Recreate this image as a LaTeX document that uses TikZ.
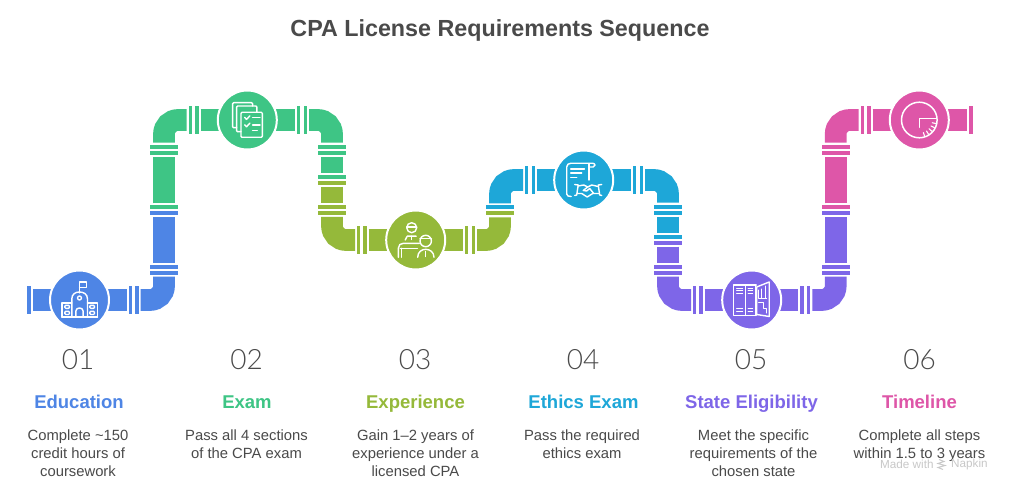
\documentclass[tikz,border=0pt]{standalone}
\usepackage{fontspec}
\setmainfont{Liberation Sans}
\newfontfamily\numfont{Lato Light}
\usetikzlibrary{backgrounds}
\definecolor{cblue}{HTML}{4E85E5}
\definecolor{cgreen}{HTML}{3EC585}
\definecolor{colive}{HTML}{95B93A}
\definecolor{cteal}{HTML}{1EA7D8}
\definecolor{cpurple}{HTML}{7E66E8}
\definecolor{cpink}{HTML}{DE56A8}
\definecolor{ctext}{HTML}{4A4A4A}
\definecolor{cmark}{HTML}{C8C8C8}
\tikzset{
  hub/.style={circle,inner sep=0pt,minimum size=59pt,draw=white,line width=2pt},
  pipe/.style={line width=21.7pt,line cap=butt},
  elbow/.style={pipe,rounded corners=14pt},
  ico/.style={draw=white,line width=1.4pt,line cap=round,line join=round},
  numtext/.style={font=\numfont\fontsize{28}{30}\selectfont,text=ctext,anchor=center},
  headtext/.style={font=\bfseries\fontsize{18.5}{22}\selectfont,anchor=base},
  desctext/.style={font=\fontsize{14.8}{18}\selectfont,text=ctext,align=center,anchor=north,inner sep=0pt},
}
\newcommand{\vb}[3]{\fill[#3] (#1,#2-14) rectangle ++(3.4,28);}
\newcommand{\hb}[3]{\fill[#3] (#1-14,#2) rectangle ++(28,4.3);}
\begin{document}
\begin{tikzpicture}[x=1pt,y=-1pt]
\useasboundingbox (0,0) rectangle (1013,492);
% hubs
\node[hub,fill=cblue] (n1) at (79.5,300) {};
\node[hub,fill=cgreen] (n2) at (247.3,120) {};
\node[hub,fill=colive] (n3) at (415.7,240) {};
\node[hub,fill=cteal] (n4) at (583.7,180) {};
\node[hub,fill=cpurple] (n5) at (751.7,300) {};
\node[hub,fill=cpink] (n6) at (919.3,120) {};
\begin{pgfonlayer}{background}
\fill[white] (0,0) rectangle (1013,492);
% blue
\fill[cblue] (26.7,286) rectangle (30.7,314);
\draw[pipe,cblue] (n1.center) -- (33,300);
\draw[pipe,cblue] (n1.center) -- (127,300);
\vb{128.7}{300}{cblue}\vb{135.3}{300}{cblue}
\draw[elbow,cblue] (140.7,300) -- (164,300) -- (164,276.7);
\hb{164}{271}{cblue}\hb{164}{265}{cblue}
\draw[pipe,cblue] (164,263) -- (164,217);
\hb{164}{210.7}{cblue}\hb{164}{205}{cgreen}
% green
\draw[pipe,cgreen] (164,203.3) -- (164,157);
\hb{164}{151}{cgreen}\hb{164}{145}{cgreen}
\draw[elbow,cgreen] (164,142.7) -- (164,120) -- (186.7,120);
\vb{188.7}{120}{cgreen}\vb{195.3}{120}{cgreen}
\draw[pipe,cgreen] (200.7,120) -- (n2.center) -- (295.3,120);
\vb{297}{120}{cgreen}\vb{303.7}{120}{cgreen}
\draw[elbow,cgreen] (309,120) -- (332,120) -- (332,142.7);
\hb{332}{145}{cgreen}\hb{332}{151}{cgreen}
\draw[pipe,cgreen] (332,157) -- (332,173.3);
\hb{332}{175}{cgreen}\hb{332}{180.7}{colive}
% olive
\draw[pipe,colive] (332,186.7) -- (332,203);
\hb{332}{205}{colive}\hb{332}{210.7}{colive}
\draw[elbow,colive] (332,217) -- (332,240) -- (355,240);
\vb{356.7}{240}{colive}\vb{363.3}{240}{colive}
\draw[pipe,colive] (368.7,240) -- (n3.center) -- (463,240);
\vb{465}{240}{colive}\vb{471.7}{240}{colive}
\draw[elbow,colive] (477,240) -- (500,240) -- (500,217.3);
\hb{500}{211}{colive}\hb{500}{205}{cteal}
% teal
\draw[elbow,cteal] (500,203.3) -- (500,180) -- (523,180);
\vb{525}{180}{cteal}\vb{531.7}{180}{cteal}
\draw[pipe,cteal] (536.7,180) -- (n4.center) -- (631,180);
\vb{633}{180}{cteal}\vb{639.7}{180}{cteal}
\draw[elbow,cteal] (645,180) -- (668,180) -- (668,202.7);
\hb{668}{205}{cteal}\hb{668}{211}{cteal}
\draw[pipe,cteal] (668,216.7) -- (668,233.3);
\hb{668}{235}{cteal}\hb{668}{240.7}{cpurple}
% purple
\draw[pipe,cpurple] (668,246.7) -- (668,263.3);
\hb{668}{265}{cpurple}\hb{668}{271}{cpurple}
\draw[elbow,cpurple] (668,276.7) -- (668,300) -- (691,300);
\vb{692.7}{300}{cpurple}\vb{699.3}{300}{cpurple}
\draw[pipe,cpurple] (704.7,300) -- (n5.center) -- (798,300);
\vb{800.3}{300}{cpurple}\vb{807}{300}{cpurple}
\draw[elbow,cpurple] (812.3,300) -- (835.7,300) -- (835.7,276.7);
\hb{835.7}{271}{cpurple}\hb{835.7}{265}{cpurple}
\draw[pipe,cpurple] (835.7,263) -- (835.7,217);
\hb{835.7}{210.7}{cpurple}\hb{835.7}{205}{cpink}
% pink
\draw[pipe,cpink] (835.7,203.3) -- (835.7,157);
\hb{835.7}{151}{cpink}\hb{835.7}{145}{cpink}
\draw[elbow,cpink] (835.7,142.7) -- (835.7,120) -- (858.7,120);
\vb{860.7}{120}{cpink}\vb{867.3}{120}{cpink}
\draw[pipe,cpink] (872.7,120) -- (n6.center) -- (967.3,120);
\fill[cpink] (969,106) rectangle (972.7,134);
\end{pgfonlayer}
% icon 1: school
\begin{scope}[shift={(n1.center)},ico]
\draw (0,-7) -- (0,-18) -- (6.7,-18) -- (6.7,-12.7) -- (0,-12.7);
\draw (-7.7,17) -- (-7.7,-1) .. controls (-7.7,-6) and (-4,-8) .. (0,-8) .. controls (4,-8) and (8,-6) .. (8,-1) -- (8,17);
\draw (0,-2) circle[radius=2pt];
\draw (-17.7,17) -- (18,17);
\draw (-7.7,3) -- (-17.7,3) -- (-17.7,17);
\draw (8,3) -- (18,3) -- (18,17);
\draw (-3.6,17) -- (-3.6,11) .. controls (-3.6,7) and (3.6,7) .. (3.6,11) -- (3.6,17);
\draw[rounded corners=1pt] (-14.7,5.3) rectangle (-10,8.3);
\draw[rounded corners=1pt] (-14.7,11.3) rectangle (-10,14.5);
\draw[rounded corners=1pt] (10.3,5.3) rectangle (15,8.3);
\draw[rounded corners=1pt] (10.3,11.3) rectangle (15,14.5);
\end{scope}
% icon 2: documents
\begin{scope}[shift={(n2.center)},ico]
\draw[rounded corners=1pt] (-10.7,7.7) -- (-14.7,7.7) -- (-14.7,-17.3) -- (5.3,-17.3) -- (5.3,-14);
\draw[rounded corners=1pt] (-6.3,11.7) -- (-10.7,11.7) -- (-10.7,-14) -- (9.5,-14) -- (9.5,-7.7);
\draw[rounded corners=1pt] (-6.3,-7.7) rectangle (15,17.3);
\draw (-2.6,-2.6) -- (-0.8,-0.6) -- (2.6,-4.2);
\draw (-2.6,4.8) -- (-0.8,6.8) -- (2.6,3.2);
\draw (5.3,-2.3) -- (12.7,-2.3);
\draw (5.3,5) -- (12.7,5);
\draw (5.3,10.7) -- (10,10.7);
\end{scope}
% icon 3: people
\begin{scope}[shift={(n3.center)},ico]
\draw (-4,-12.3) circle[radius=5pt];
\draw (-9,-13) -- (1,-13);
\draw (10,1) circle[radius=5.7pt];
\draw (4.3,-1.7) -- (15.7,-1.7);
\draw (-10.5,0) -- (-8.5,-3.8) -- (0.5,-3.8);
\draw (-4,-3.8) -- (-4,-0.5);
\draw (-17.3,17.3) -- (-17.3,8) .. controls (-17.3,5) and (-15,3.3) .. (-12.3,3.3) -- (3.7,3.3);
\draw (-15.5,8.3) -- (1.7,8.3);
\draw (-14.5,8.3) -- (-14.5,17.3);
\draw (2,17.3) .. controls (2,12) and (6,9.3) .. (10,9.3) .. controls (14,9.3) and (18.3,12) .. (18.3,17.3);
\draw (10,11.5) -- (10,16.5);
\end{scope}
% icon 4: scroll and handshake
\begin{scope}[shift={(n4.center)},ico]
\draw (-17,14) -- (-17,-13) .. controls (-17,-15.5) and (-15,-16.7) .. (-13,-16.7) -- (9,-16.7) .. controls (12,-16.7) and (12,-13) .. (9.5,-13) -- (5.3,-13);
\draw (5.3,-16.5) -- (5.3,0);
\draw (-17,14) .. controls (-17,16) and (-15,16.5) .. (-12.5,16.5);
\draw (-13,-11) -- (0.7,-11);
\draw (-13,-7) -- (-2,-7);
\draw (-13,-2.7) -- (-7,-2.7);
\draw (-9,4.5) -- (-5.5,5) -- (-7,15) -- (-9,15.5);
\draw (18,4.5) -- (14.5,5) -- (16,15) -- (18,15.5);
\draw (-5.5,6) -- (0,5) -- (4,7) -- (8,5) -- (14.5,6.5);
\draw (-6.5,13.5) -- (-2,13.5) -- (3.5,17) -- (9,13.5) -- (15,13.5);
\draw (4,7) -- (-0.5,10.5) -- (3,11) -- (6,8.5) -- (10,13.5);
\end{scope}
% icon 5: lockers
\begin{scope}[shift={(n5.center)},ico]
\draw (4.5,-15) -- (-18,-15) -- (-18,15.5) -- (4.5,15.5);
\draw (-6.3,-15) -- (-6.3,15.5);
\draw (3.5,-15) -- (3.5,15.5);
\draw (5,-13) -- (17.5,-18) -- (17.5,16.5) -- (5,14.5) -- cycle;
\foreach \ya in {-12,-9.5,-7,8.5,11.5} {
  \draw[line width=1pt] (-15,\ya) -- (-9,\ya);
  \draw[line width=1pt] (-3.5,\ya) -- (1,\ya);
}
\draw[line width=1pt] (7,-10) -- (7,-2);
\draw[line width=1pt] (10,-11) -- (10,-2);
\draw[line width=1pt] (13.5,-14) -- (13.5,-2);
\draw[line width=1pt] (7,2) -- (12,2) -- (12,8) -- (15,8) -- (15,13);
\draw[line width=1pt] (7,-2) -- (15,-2);
\end{scope}
% icon 6: gauge
\begin{scope}[shift={(n6.center)},ico,line width=1.5pt]
\draw (0,0) circle[radius=17.8pt];
\draw (17,-1.5) -- (0,-1.5) -- (0,7.3);
\foreach \aa in {12,27,42,57,72} {
  \draw[line width=1.1pt] ({13.2*cos(\aa)},{13.2*sin(\aa)}) -- ({17*cos(\aa)},{17*sin(\aa)});
}
\end{scope}
% title
\node[font=\bfseries\fontsize{23.3}{28}\selectfont,text=ctext,anchor=base] (title) at (500,36.5) {CPA License Requirements Sequence};
% numbers
\node[numtext] (d1) at (78,360) {01};
\node[numtext] (d2) at (246.5,360) {02};
\node[numtext] (d3) at (415,360) {03};
\node[numtext] (d4) at (583,360) {04};
\node[numtext] (d5) at (751,360) {05};
\node[numtext] (d6) at (919.5,360) {06};
% headings
\node[headtext,text=cblue] (h1) at (79,408.5) {Education};
\node[headtext,text=cgreen] (h2) at (247,408.5) {Exam};
\node[headtext,text=colive] (h3) at (415.5,408.5) {Experience};
\node[headtext,text=cteal] (h4) at (583.5,408.5) {Ethics Exam};
\node[headtext,text=cpurple] (h5) at (751.5,408.5) {State Eligibility};
\node[headtext,text=cpink] (h6) at (919.5,408.5) {Timeline};
% descriptions
\node[desctext] (t1) at (78,429.5) {Complete \textasciitilde150\\credit hours of\\coursework};
\node[desctext] (t2) at (246.5,429.5) {Pass all 4 sections\\of the CPA exam};
\node[desctext] (t3) at (415.5,429.5) {Gain 1–2 years of\\experience under a\\licensed CPA};
\node[desctext] (t4) at (582,429.5) {Pass the required\\ethics exam};
\node[desctext] (t5) at (753.5,429.5) {Meet the specific\\requirements of the\\chosen state};
\node[desctext] (t6) at (919.5,429.5) {Complete all steps\\within 1.5 to 3 years};
% watermark
\node[font=\fontsize{11.7}{13}\selectfont,text=cmark,anchor=west,inner sep=0pt] (m1) at (880,464) {Made with};
\node[font=\fontsize{11.7}{13}\selectfont,text=cmark,anchor=west,inner sep=0pt] (m2) at (951,464) {Napkin};
\draw[cmark,line width=1pt] (939,459.5) -- (944,461.5) -- (938,463.5) -- (945,465.5) -- (938,467.5) -- (943,469.5);
\end{tikzpicture}
\end{document}
